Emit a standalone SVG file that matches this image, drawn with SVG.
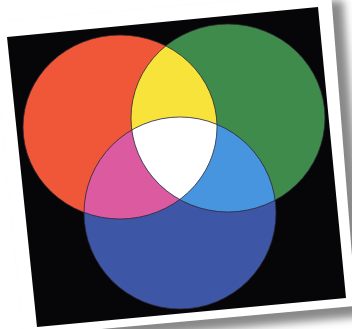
<svg xmlns="http://www.w3.org/2000/svg" width="352" height="329" viewBox="0 0 352 329">
  <defs>
    <filter id="blur" x="-20%" y="-20%" width="140%" height="140%">
      <feGaussianBlur stdDeviation="4"/>
    </filter>
    <clipPath id="clipRed"><ellipse cx="120" cy="127" rx="97" ry="92"/></clipPath>
    <clipPath id="clipGreen"><ellipse cx="228" cy="118" rx="97" ry="94"/></clipPath>
    <clipPath id="clipRedGreen" clip-path="url(#clipRed)"><ellipse cx="228" cy="118" rx="97" ry="94"/></clipPath>
  </defs>
  <style>
    .edge { fill: none; stroke: #2a2430; stroke-width: 0.9; stroke-opacity: 0.85; }
  </style>
  <rect width="352" height="329" fill="#ffffff"/>
  <g id="paper">
    <polygon points="2,31 343,0 368,316 34,346" fill="#888888" filter="url(#blur)"/>
    <polygon points="-8,23 331,-7 356,306 24,336" fill="#ffffff"/>
    <polygon points="7,37 318,7 346,298 37,327" fill="#060608"/>
  </g>
  <g id="red"><ellipse cx="120" cy="127" rx="97" ry="92" fill="#f05738"/></g>
  <g id="green"><ellipse cx="228" cy="118" rx="97" ry="94" fill="#3f8b4b"/></g>
  <g id="blue"><ellipse cx="180" cy="213" rx="96" ry="96" fill="#3e56a6"/></g>
  <g id="yellow"><ellipse cx="228" cy="118" rx="97" ry="94" fill="#f8e33a" clip-path="url(#clipRed)"/></g>
  <g id="magenta"><ellipse cx="180" cy="213" rx="96" ry="96" fill="#dc5a9f" clip-path="url(#clipRed)"/></g>
  <g id="cyan"><ellipse cx="180" cy="213" rx="96" ry="96" fill="#4695de" clip-path="url(#clipGreen)"/></g>
  <g id="white"><ellipse cx="180" cy="213" rx="96" ry="96" fill="#ffffff" clip-path="url(#clipRedGreen)"/></g>
  <g id="outlines">
    <ellipse class="edge" cx="120" cy="127" rx="97" ry="92"/>
    <ellipse class="edge" cx="228" cy="118" rx="97" ry="94"/>
    <ellipse class="edge" cx="180" cy="213" rx="96" ry="96"/>
  </g>
</svg>
